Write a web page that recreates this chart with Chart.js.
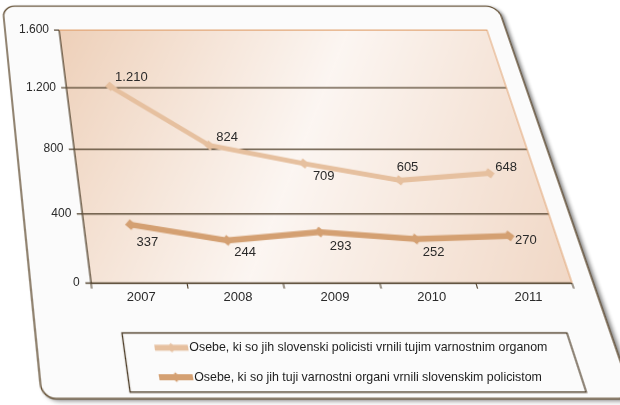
<!DOCTYPE html>
<html lang="sl">
<head>
<meta charset="utf-8">
<title>Vrnjene osebe 2007–2011</title>
<script src="https://cdn.jsdelivr.net/npm/chart.js@4.4.1/dist/chart.umd.min.js"></script>
<style>
  html, body { margin: 0; padding: 0; background: #fff; overflow: hidden; }
  #wrap { position: relative; width: 620px; height: 405px; overflow: hidden; }
  #chart { position: absolute; left: 0; top: 0; transform-origin: 0 0; }
  #labels { position: absolute; left: 0; top: 0; pointer-events: none; }
</style>
</head>
<body>
<div id="wrap">
  <canvas id="chart" width="620" height="405" style="width:620px;height:405px"></canvas>
  <canvas id="labels" width="620" height="405"></canvas>
</div>
<script>
// ---- podatki ----
const years = ['2007', '2008', '2009', '2010', '2011'];
const vrnjeniTujim = [1210, 824, 709, 605, 648];   // slovenski policisti -> tuji organi
const vrnjeniNasim = [337, 244, 293, 252, 270];    // tuji organi -> slovenski policisti
const yTicks = [0, 400, 800, 1200, 1600];
const seriesNames = [
    'Osebe, ki so jih slovenski policisti vrnili tujim varnostnim organom',
    'Osebe, ki so jih tuji varnostni organi vrnili slovenskim policistom'
];

// ---- izgled ----
const lineColors = ['#e6c09f', '#d4a072'];
const darkLine = '#4a3a24';
// kam na zaslonu pade risalna ploskev (perspektiva): TL, TR, BR, BL
const plotQuad = [[59, 30], [487, 30], [572, 283], [91, 283]];
// zamik oznak podatkov na zaslonu [dx, dy] glede na tocko
const labelOffsets = [
    [[5, -9], [7, -8], [9, 13], [-3, -13], [6, -6]],
    [[6, 18], [7, 12], [10, 14], [7, 13], [6, 4]]
];

function fmt(v) {
    return String(v).replace(/\B(?=(\d{3})+(?!\d))/g, '.');
}

// homografija: enotski kvadrat -> stirikotnik
function squareToQuad(q) {
    const [x0, y0] = q[0], [x1, y1] = q[1], [x2, y2] = q[2], [x3, y3] = q[3];
    const dx1 = x1 - x2, dx2 = x3 - x2, dy1 = y1 - y2, dy2 = y3 - y2;
    const sx = x0 - x1 + x2 - x3, sy = y0 - y1 + y2 - y3;
    let g = 0, h = 0;
    if (sx !== 0 || sy !== 0) {
        const den = dx1 * dy2 - dx2 * dy1;
        g = (sx * dy2 - dx2 * sy) / den;
        h = (dx1 * sy - sx * dy1) / den;
    }
    return [x1 - x0 + g * x1, x3 - x0 + h * x3, x0,
            y1 - y0 + g * y1, y3 - y0 + h * y3, y0,
            g, h, 1];
}
function mul3(A, B) {
    const R = [];
    for (let r = 0; r < 3; r++)
        for (let c = 0; c < 3; c++)
            R.push(A[r * 3] * B[c] + A[r * 3 + 1] * B[3 + c] + A[r * 3 + 2] * B[6 + c]);
    return R;
}
function homography(area) {
    const w = area.right - area.left, h = area.bottom - area.top;
    const toUnit = [1 / w, 0, -area.left / w, 0, 1 / h, -area.top / h, 0, 0, 1];
    return mul3(squareToQuad(plotQuad), toUnit);
}
function project(H, x, y) {
    const w = H[6] * x + H[7] * y + H[8];
    return [(H[0] * x + H[1] * y + H[2]) / w, (H[3] * x + H[4] * y + H[5]) / w];
}

function roundRect(ctx, x, y, w, h, r) {
    ctx.beginPath();
    ctx.moveTo(x + r, y);
    ctx.arcTo(x + w, y, x + w, y + h, r);
    ctx.arcTo(x + w, y + h, x, y + h, r);
    ctx.arcTo(x, y + h, x, y, r);
    ctx.arcTo(x, y, x + w, y, r);
    ctx.closePath();
}

const labelCanvas = document.getElementById('labels');

const perspectivePlugin = {
    id: 'perspective',
    beforeDraw(chart) {
        const ctx = chart.ctx, a = chart.chartArea;
        // kartica z senco
        const cx = a.left - 54, cy = a.top - 27, cw = 501, ch = a.bottom - a.top + 125;
        ctx.save();
        ctx.shadowColor = 'rgba(0, 0, 0, 0.55)';
        ctx.shadowBlur = 9;
        ctx.shadowOffsetX = 5;
        ctx.shadowOffsetY = 3;
        roundRect(ctx, cx, cy, cw, ch, 12);
        ctx.fillStyle = '#fbfbfb';
        ctx.fill();
        ctx.restore();
        ctx.save();
        roundRect(ctx, cx, cy, cw, ch, 12);
        ctx.strokeStyle = '#5a4528';
        ctx.lineWidth = 1.3;
        ctx.stroke();
        ctx.restore();

        // ozadje risalne ploskve
        const g = ctx.createLinearGradient(a.left, a.top, a.right, a.bottom);
        g.addColorStop(0, '#eed0b9');
        g.addColorStop(0.5, '#fcf6f2');
        g.addColorStop(1, '#f1d8c6');
        ctx.fillStyle = g;
        ctx.fillRect(a.left, a.top, a.right - a.left, a.bottom - a.top);
    },
    beforeDatasetsDraw(chart) {
        const ctx = chart.ctx, a = chart.chartArea;
        ctx.save();
        ctx.strokeStyle = '#e2a472';
        ctx.lineWidth = 1;
        ctx.beginPath();
        ctx.moveTo(a.left, a.top);
        ctx.lineTo(a.right, a.top);
        ctx.lineTo(a.right, a.bottom);
        ctx.stroke();
        ctx.restore();
    },
    afterDraw(chart) {
        const ctx = chart.ctx, a = chart.chartArea;

        // legenda (okvir in crte) na ravnini grafa
        ctx.save();
        ctx.strokeStyle = darkLine;
        ctx.lineWidth = 1.2;
        ctx.strokeRect(a.left + 21.5, a.bottom + 43.5, 387.5, 49.2);
        const rows = [a.bottom + 56, a.bottom + 80.5];
        chart.data.datasets.forEach((ds, i) => {
            const y = rows[i];
            ctx.strokeStyle = ds.borderColor;
            ctx.fillStyle = ds.borderColor;
            ctx.lineWidth = 5;
            ctx.beginPath();
            ctx.moveTo(a.left + 48, y);
            ctx.lineTo(a.left + 77, y);
            ctx.stroke();
            ctx.beginPath();
            const mx = a.left + 62.5;
            ctx.moveTo(mx, y - 4); ctx.lineTo(mx + 4, y); ctx.lineTo(mx, y + 4); ctx.lineTo(mx - 4, y);
            ctx.fill();
        });
        ctx.restore();

        // perspektiva
        const H = homography(a);
        chart.canvas.style.transform = 'matrix3d(' + [H[0], H[3], 0, H[6], H[1], H[4], 0, H[7],
            0, 0, 1, 0, H[2], H[5], 0, H[8]].join(',') + ')';

        // besedila ostanejo pokoncna
        const lc = labelCanvas.getContext('2d');
        lc.clearRect(0, 0, labelCanvas.width, labelCanvas.height);
        lc.fillStyle = '#2a2a2a';
        lc.textBaseline = 'middle';

        const ys = chart.scales.y, xs = chart.scales.x;
        lc.font = '12px "Liberation Sans", Arial, sans-serif';
        lc.textAlign = 'right';
        yTicks.forEach(v => {
            const p = project(H, a.left - 10, ys.getPixelForValue(v));
            lc.fillText(fmt(v), p[0], p[1]);
        });

        lc.font = '13px "Liberation Sans", Arial, sans-serif';
        lc.textAlign = 'center';
        years.forEach((yr, i) => {
            const p = project(H, xs.getPixelForValue(i), a.bottom + 13);
            lc.fillText(yr, p[0], p[1]);
        });

        lc.textAlign = 'left';
        chart.data.datasets.forEach((ds, d) => {
            chart.getDatasetMeta(d).data.forEach((pt, i) => {
                const p = project(H, pt.x, pt.y);
                const off = labelOffsets[d][i];
                lc.fillText(fmt(ds.data[i]), p[0] + off[0], p[1] + off[1]);
            });
        });

        lc.font = '12.4px "Liberation Sans", Arial, sans-serif';
        lc.fillStyle = '#1e1e1e';
        chart.data.datasets.forEach((ds, i) => {
            const p = project(H, a.left + 78, rows[i]);
            lc.fillText(ds.label, p[0], p[1]);
        });
    }
};

new Chart(document.getElementById('chart'), {
    type: 'line',
    data: {
        labels: years,
        datasets: [{
            label: seriesNames[0],
            data: vrnjeniTujim,
            borderColor: lineColors[0],
            backgroundColor: lineColors[0],
            borderWidth: 5,
            pointStyle: 'rectRot',
            pointRadius: 5,
            pointBorderWidth: 0,
            tension: 0
        }, {
            label: seriesNames[1],
            data: vrnjeniNasim,
            borderColor: lineColors[1],
            backgroundColor: lineColors[1],
            borderWidth: 5.5,
            pointStyle: 'rectRot',
            pointRadius: 5,
            pointBorderWidth: 0,
            tension: 0
        }]
    },
    options: {
        responsive: false,
        animation: false,
        devicePixelRatio: 2,
        layout: { padding: { left: 54, right: 133, top: 30, bottom: 117 } },
        plugins: {
            legend: { display: false },
            tooltip: { enabled: false }
        },
        scales: {
            x: {
                offset: true,
                grid: { offset: true, drawOnChartArea: false, tickLength: 5, tickColor: darkLine },
                border: { color: darkLine, width: 1.2 },
                ticks: { display: false }
            },
            y: {
                min: 0,
                max: 1600,
                afterBuildTicks: scale => { scale.ticks = yTicks.map(v => ({ value: v })); },
                grid: {
                    color: ctx => ctx.tick && ctx.tick.value === 1600 ? '#e2a472' : darkLine,
                    lineWidth: 1.2,
                    tickLength: 5,
                    tickColor: darkLine
                },
                border: { color: darkLine, width: 1.2 },
                ticks: { display: false }
            }
        }
    },
    plugins: [perspectivePlugin]
});
</script>
</body>
</html>
